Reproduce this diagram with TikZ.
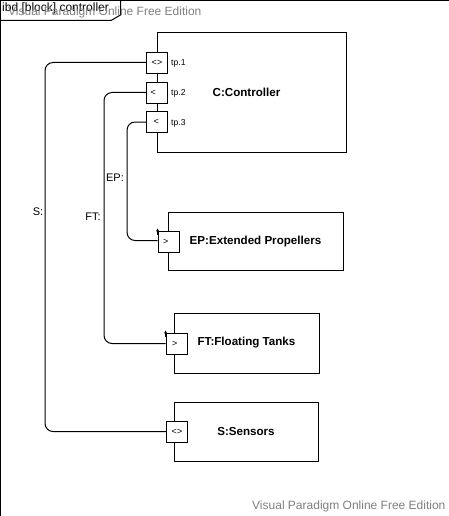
\documentclass[tikz,border=0pt]{standalone}
\usepackage{fontspec}
\setmainfont{Liberation Sans}
\usetikzlibrary{arrows.meta}
\begin{document}
\begin{tikzpicture}[x=1pt,y=-1pt,
  blockbox/.style={draw=black,line width=0.9pt,inner sep=0pt,font=\fontsize{11.6}{13}\selectfont\bfseries},
  portbox/.style={draw=black,fill=white,line width=0.9pt,minimum width=21pt,minimum height=21pt,inner sep=0pt,font=\fontsize{9}{10}\selectfont},
  portleft/.style={portbox,inner xsep=4pt,text width=13pt,align=left},
  portlbl/.style={font=\fontsize{8.6}{10}\selectfont,anchor=west,inner sep=0pt},
  conn/.style={draw=black,line width=1pt,rounded corners=8pt},
  connlbl/.style={font=\fontsize{11}{13}\selectfont,inner sep=0pt},
  water/.style={font=\fontsize{12}{14}\selectfont,text=black!50,inner sep=0pt,anchor=west},
  tinyarrow/.style={line width=0.6pt,-{Stealth[length=3pt,width=3pt]}}
]
\useasboundingbox (0,0) rectangle (449,516);
% frame
\draw[line width=1pt] (0.5,516) -- (0.5,0.5) -- (449,0.5);
\draw[line width=1pt] (0.5,20.5) -- (111,20.5) -- (120.5,15) -- (120.5,0.5);
\node[anchor=west,inner sep=0pt,font=\fontsize{12}{14}\selectfont] (title) at (2,8) {ibd [block] controller};
\node[water] (wm1) at (8,12) {Visual Paradigm Online Free Edition};
\node[water] (wm2) at (252,506) {Visual Paradigm Online Free Edition};
% blocks
\node[blockbox,minimum width=189pt,minimum height=120pt] (ctrl) at (251.5,92) {\hspace*{-10pt}C:Controller};
\node[blockbox,minimum width=175pt,minimum height=58pt] (ep) at (255.5,241) {EP:Extended Propellers};
\node[blockbox,minimum width=145pt,minimum height=60pt] (ft) at (246.5,343) {FT:Floating Tanks};
\node[blockbox,minimum width=144pt,minimum height=59pt] (s) at (246,431.5) {S:Sensors};
% ports
\node[portbox] (tp1) at (157,62.5) {<>};
\node[portleft] (tp2) at (157,92.5) {<};
\node[portleft] (tp3) at (157,122) {\hspace*{3pt}<};
\node[portleft] (epp) at (168.5,241.5) {\hspace*{1pt}>};
\node[portleft] (ftp) at (176.5,343.5) {\hspace*{2pt}>};
\node[portbox] (sp) at (177,431.5) {<>};
\node[portlbl] (l1) at (171,63) {tp.1};
\node[portlbl] (l2) at (171,93) {tp.2};
\node[portlbl] (l3) at (171,123) {tp.3};
% connectors
\draw[conn] (tp1.west) -- ++(-101,0) |- (sp.west);
\draw[conn] (tp2.west) -- ++(-42,0) |- (ftp.west);
\draw[conn] (tp3.west) -- ++(-19,0) |- ([yshift=1pt]epp.west);
\draw[tinyarrow] ([yshift=-4pt]epp.north west) -- ([yshift=2pt]epp.north west);
\draw[tinyarrow] ([yshift=-4pt]ftp.north west) -- ([yshift=2pt]ftp.north west);
\node[connlbl] (ls) at (38,212) {S:};
\node[connlbl] (lft) at (93,217) {FT:};
\node[connlbl] (lep) at (115,178) {EP:};
\end{tikzpicture}
\end{document}
